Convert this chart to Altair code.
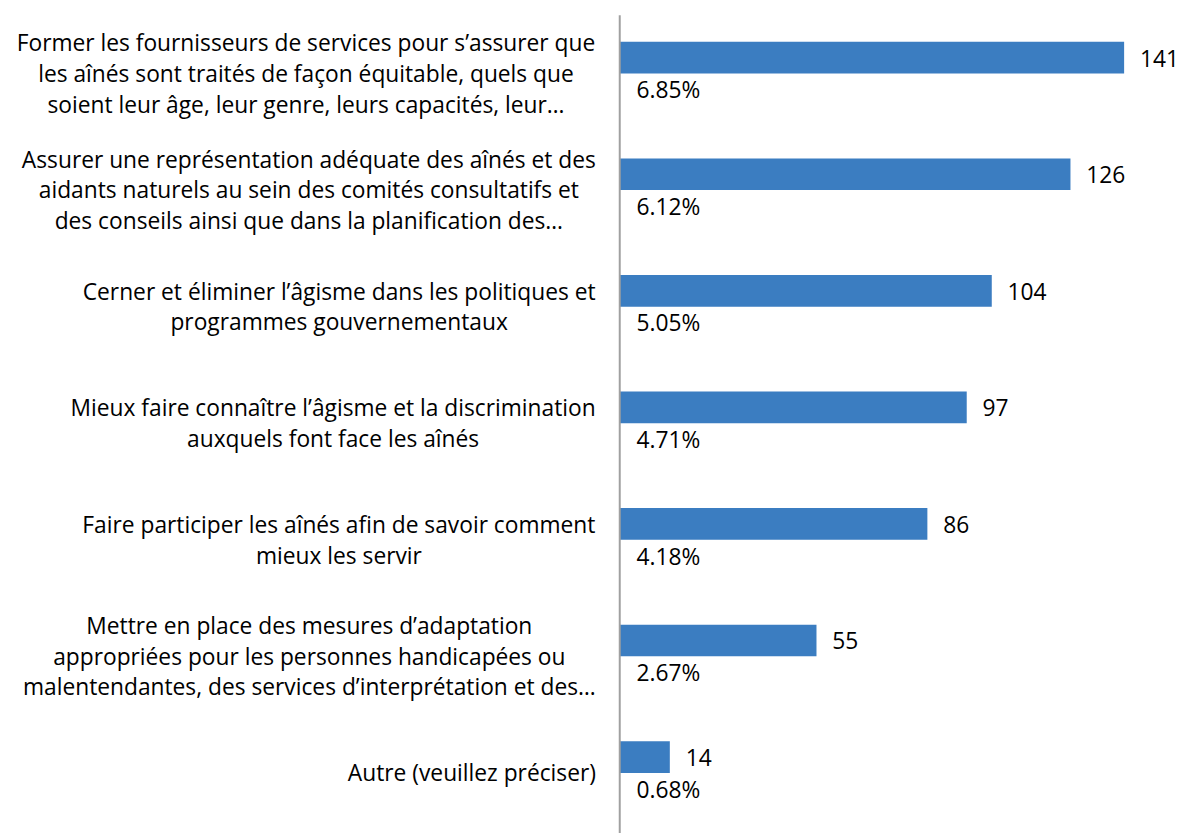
import altair as alt
import pandas as pd

categories = [
    "Former les fournisseurs de services pour s’assurer que\nles aînés sont traités de façon équitable, quels que\nsoient leur âge, leur genre, leurs capacités, leur…",
    "Assurer une représentation adéquate des aînés et des\naidants naturels au sein des comités consultatifs et\ndes conseils ainsi que dans la planification des…",
    "Cerner et éliminer l’âgisme dans les politiques et\nprogrammes gouvernementaux",
    "Mieux faire connaître l’âgisme et la discrimination\nauxquels font face les aînés",
    "Faire participer les aînés afin de savoir comment\nmieux les servir",
    "Mettre en place des mesures d’adaptation\nappropriées pour les personnes handicapées ou\nmalentendantes, des services d’interprétation et des…",
    "Autre (veuillez préciser)",
]
counts = [141, 126, 104, 97, 86, 55, 14]
percents = ["6.85%", "6.12%", "5.05%", "4.71%", "4.18%", "2.67%", "0.68%"]

FONT = "Open Sans"
FS = 23
LINE_H = 31
PAD_LEFT = 618
LABEL_RIGHT = -24  # right edge of label blocks, relative to plot left

# approximate Open Sans advance widths (units per 2048) to centre each block
_W = {" ": 532, "a": 1139, "b": 1255, "c": 975, "d": 1255, "e": 1149, "f": 694, "g": 1122,
      "h": 1257, "i": 518, "j": 518, "k": 1075, "l": 518, "m": 1905, "n": 1257, "o": 1237,
      "p": 1255, "q": 1255, "r": 836, "s": 977, "t": 723, "u": 1257, "v": 1026, "w": 1593,
      "x": 1073, "y": 1028, "z": 977, ",": 500, ".": 545, "’": 362, "(": 596, ")": 596,
      "…": 1636, "A": 1296, "C": 1292, "F": 1104, "M": 1823, "E": 1139}
_ACC = str.maketrans("âàéèêëîïôûùç", "aaeeeeiiouuc")


def text_width(s):
    return sum(_W.get(ch.translate(_ACC), 1150) for ch in s) / 2048 * FS


rows = []
for i, (c, n, p) in enumerate(zip(categories, counts, percents)):
    lines = c.split("\n")
    wmax = max(text_width(l) for l in lines)
    rows.append({"idx": i, "cat": c, "count": n, "pct": p,
                 "nlines": len(lines), "lx": LABEL_RIGHT - wmax / 2})
df = pd.DataFrame(rows)

y_enc = alt.Y("idx:O", scale=alt.Scale(range=[-14.9, 809.4], paddingInner=0, paddingOuter=0), axis=None)
x_scale = alt.Scale(domain=[0, 156.9], nice=False, zero=True)

base = alt.Chart(df)

bars = base.mark_bar(color="#3b7dc1", size=32, clip=False).encode(
    x=alt.X("count:Q", scale=x_scale, axis=None),
    y=y_enc,
)

vals = base.mark_text(align="left", baseline="alphabetic", dx=16, dy=9, font=FONT, fontSize=FS,
                      color="#000000").encode(
    x=alt.X("count:Q", scale=x_scale, axis=None),
    y=y_enc,
    text="count:Q",
)

pcts = base.mark_text(align="left", baseline="alphabetic", dy=41, font=FONT, fontSize=FS,
                      color="#000000").encode(
    x=alt.value(17),
    y=y_enc,
    text="pct:N",
)

label_layers = []
for n in (1, 2, 3):
    dy = 24.5 - (n - 1) * LINE_H / 2
    label_layers.append(
        base.transform_filter(alt.datum.nlines == n).mark_text(
            align="center", baseline="alphabetic", dy=dy, lineBreak="\n", lineHeight=LINE_H,
            font=FONT, fontSize=FS, color="#000000").encode(
            x=alt.X("lx:Q", scale=None, axis=None),
            y=y_enc,
            text="cat:N",
        )
    )

axis_line = alt.Chart(pd.DataFrame({"a": [0]})).mark_rule(color="#a0a0a0", strokeWidth=2).encode(
    x=alt.value(0), y=alt.value(1), y2=alt.value(830)
)

chart = alt.layer(bars, vals, pcts, *label_layers, axis_line).properties(
    width=567, height=823,
    autosize=alt.AutoSizeParams(type="none"),
    padding={"left": PAD_LEFT, "top": 2, "right": 0, "bottom": 0},
).configure_view(stroke=None)

chart.save("out.html", embed_options={"renderer": "svg", "actions": False})
